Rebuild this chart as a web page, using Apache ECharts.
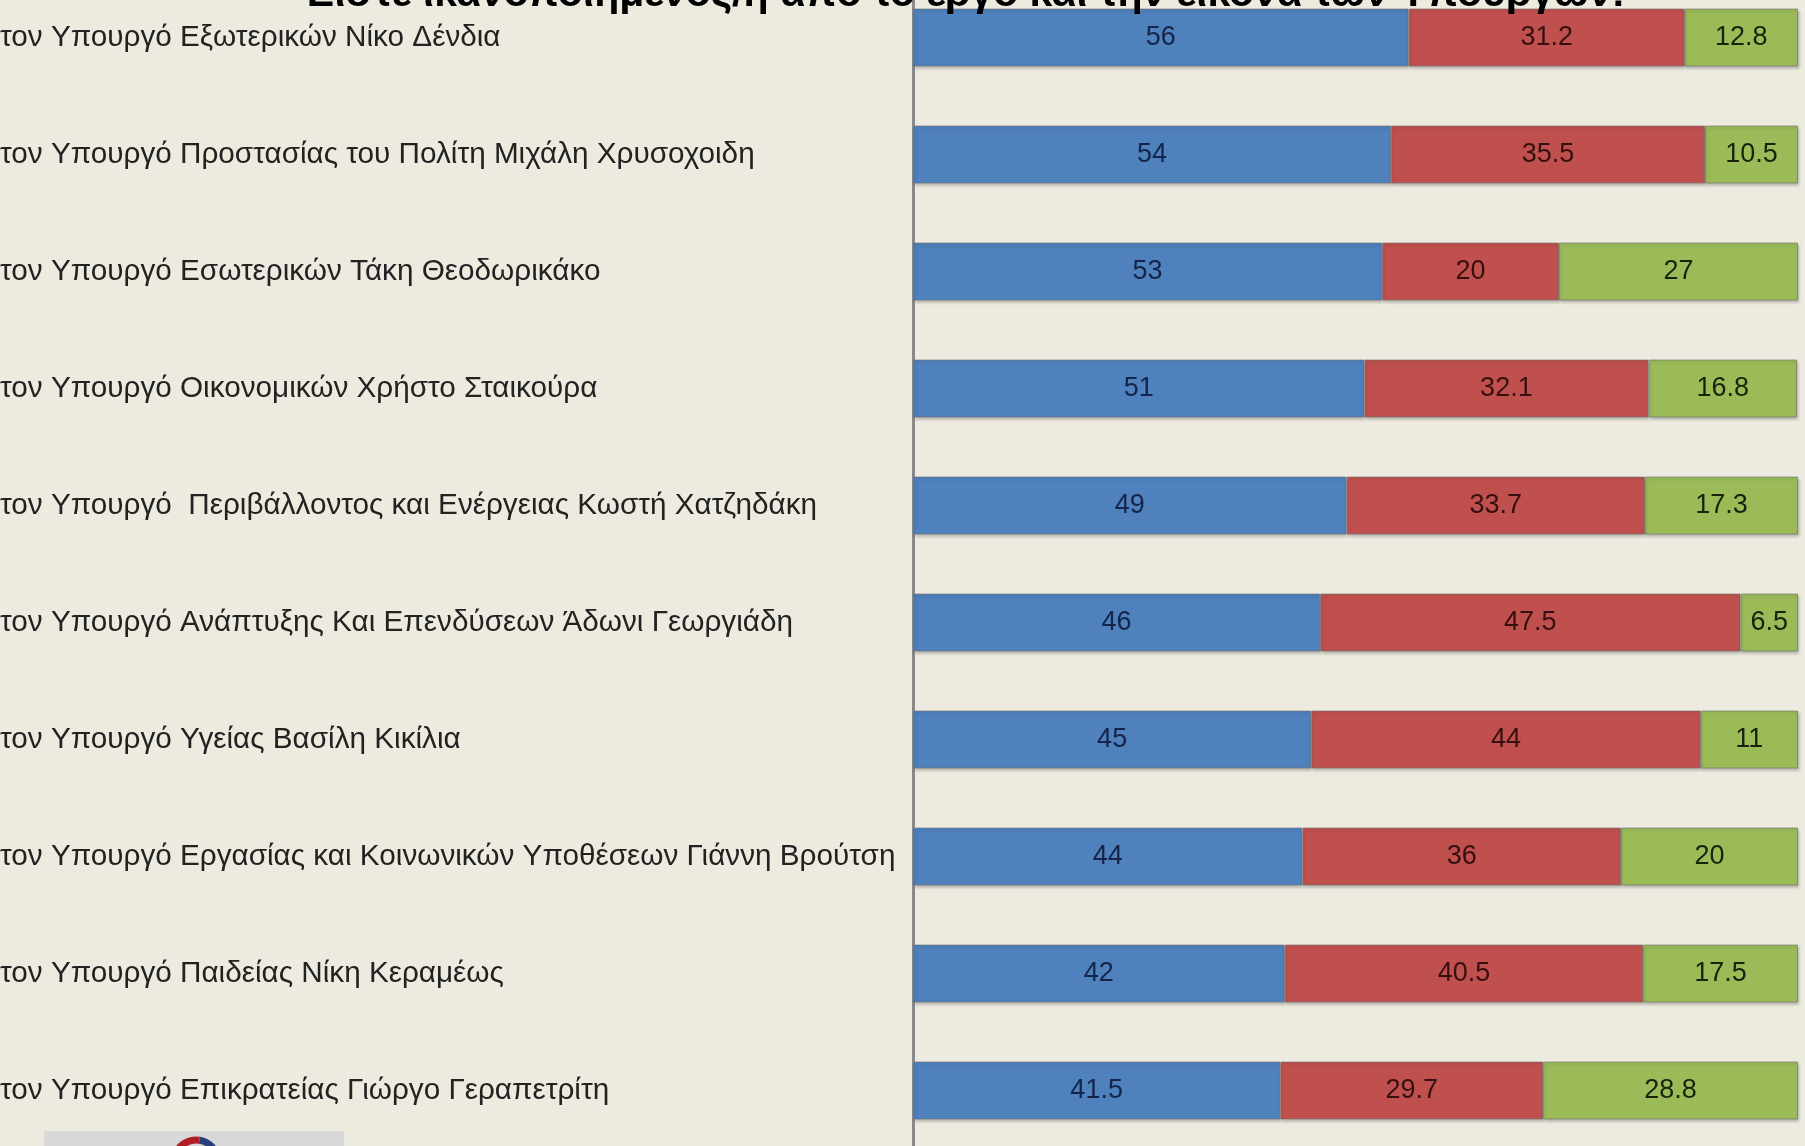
<!DOCTYPE html>
<html>
<head>
<meta charset="utf-8">
<script src="https://cdn.jsdelivr.net/npm/echarts@6/dist/echarts.min.js"></script>
<style>
html,body{margin:0;padding:0;background:#EDEAE0;}
#chart{width:1805px;height:1146px;}
</style>
</head>
<body>
<div id="chart"></div>
<script>
const titleText = 'Είστε ικανοποιημένος/η από το έργο και την εικόνα των Υπουργών:';
const categories = [
  'τον Υπουργό Εξωτερικών Νίκο Δένδια',
  'τον Υπουργό Προστασίας του Πολίτη Μιχάλη Χρυσοχοιδη',
  'τον Υπουργό Εσωτερικών Τάκη Θεοδωρικάκο',
  'τον Υπουργό Οικονομικών Χρήστο Σταικούρα',
  'τον Υπουργό  Περιβάλλοντος και Ενέργειας Κωστή Χατζηδάκη',
  'τον Υπουργό Ανάπτυξης Και Επενδύσεων Άδωνι Γεωργιάδη',
  'τον Υπουργό Υγείας Βασίλη Κικίλια',
  'τον Υπουργό Εργασίας και Κοινωνικών Υποθέσεων Γιάννη Βρούτση',
  'τον Υπουργό Παιδείας Νίκη Κεραμέως',
  'τον Υπουργό Επικρατείας Γιώργο Γεραπετρίτη'
];
const blueValues  = [56, 54, 53, 51, 49, 46, 45, 44, 42, 41.5];
const redValues   = [31.2, 35.5, 20, 32.1, 33.7, 47.5, 44, 36, 40.5, 29.7];
const greenValues = [12.8, 10.5, 27, 16.8, 17.3, 6.5, 11, 20, 17.5, 28.8];

const chart = echarts.init(document.getElementById('chart'));
const font = '"Liberation Sans", "DejaVu Sans", sans-serif';
function mk(name, data, color, labelColor) {
  return {
    name: name, type: 'bar', stack: 'total', data: data, barWidth: 58,
    itemStyle: { color: color, borderColor: 'rgba(110,110,110,0.6)', borderWidth: 1,
      shadowColor: 'rgba(0,0,0,0.25)', shadowBlur: 3, shadowOffsetX: 1, shadowOffsetY: 2 },
    label: { show: true, position: 'inside', color: labelColor, fontSize: 27,
      fontFamily: font, formatter: p => String(p.value) },
    emphasis: { disabled: true }
  };
}
chart.setOption({
  backgroundColor: '#EDEAE0',
  animation: false,
  title: { text: titleText, left: 961, top: -31, textAlign: 'center',
    textStyle: { fontSize: 41, fontWeight: 'bold', color: '#000', fontFamily: font } },
  grid: { left: 913, right: 7, top: -21, height: 1170, containLabel: false, outerBoundsMode: 'none' },
  xAxis: { type: 'value', min: 0, max: 100, show: false },
  yAxis: {
    type: 'category', data: categories, inverse: true,
    axisLine: { show: true, lineStyle: { color: '#8a8a8a', width: 3 } },
    axisTick: { show: false },
    axisLabel: { align: 'left', margin: 913, fontSize: 29.7, color: '#222', fontFamily: font }
  },
  series: [
    mk('blue', blueValues, '#4F81BD', '#14244a'),
    mk('red', redValues, '#C0504D', '#361010'),
    mk('green', greenValues, '#9BBB59', '#1a220c')
  ],
  graphic: [
    { type: 'rect', shape: { x: 44, y: 1131, width: 300, height: 20 }, style: { fill: '#d8d8d8' } },
    { type: 'arc', shape: { cx: 196, cy: 1162, r: 22, startAngle: Math.PI * 1.1, endAngle: Math.PI * 1.55 },
      style: { stroke: '#b01e23', lineWidth: 7, fill: null } },
    { type: 'arc', shape: { cx: 196, cy: 1162, r: 22, startAngle: Math.PI * 1.55, endAngle: Math.PI * 1.9 },
      style: { stroke: '#2a3d7a', lineWidth: 7, fill: null } }
  ]
});
</script>
</body>
</html>
